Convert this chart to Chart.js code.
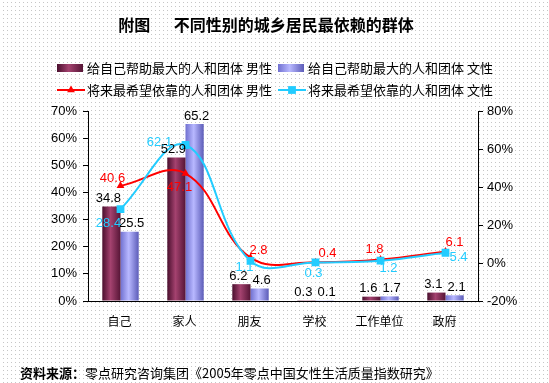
<!DOCTYPE html>
<html>
<head>
<meta charset="utf-8">
<script src="https://cdn.jsdelivr.net/npm/chart.js@4/dist/chart.umd.min.js"></script>
<style>
  html, body { margin: 0; padding: 0; background: #fff; }
  #wrap { width: 549px; height: 383px; }
</style>
</head>
<body>
<div id="wrap"><canvas id="dependChart" width="549" height="383"></canvas></div>
<script>
// ====Data====
var categories = ['自己', '家人', '朋友', '学校', '工作单位', '政府'];
var helpMale = [34.8, 52.9, 6.2, 0.3, 1.6, 3.1];
var helpFemale = [25.5, 65.2, 4.6, 0.1, 1.7, 2.1];
var hopeMale = [40.6, 47.1, 2.8, 0.4, 1.8, 6.1];
var hopeFemale = [28.4, 62.1, 1.1, 0.3, 1.2, 5.4];
var seriesNames = ['给自己帮助最大的人和团体 男性', '给自己帮助最大的人和团体 文性',
                   '将来最希望依靠的人和团体 男性', '将来最希望依靠的人和团体 文性'];
var titleText = '附图　  不同性别的城乡居民最依赖的群体';
var sourceLabel = '资料来源：';
var sourceText = '零点研究咨询集团《2005年零点中国女性生活质量指数研究》';

// label nudges for the line values (px)
var hopeMaleNudge = [[-8, -7], [-6, 14], [8, -7], [12, -9], [-6, -10], [9, -9]];
var hopeFemaleNudge = [[-12, 14], [-26, -3], [-6, 7], [-2, 11], [8, 8], [13, 5]];

var maleStops = ['#4a0f2e', '#a4426f', '#561536'];
var femaleStops = ['#7070d0', '#b8b8ff', '#5c5cb8'];
var barSpan = 0.56;
var cjk = '"Noto Sans CJK SC", "Noto Sans", sans-serif';
var latin = '"Liberation Sans", Arial, sans-serif';

function barGradient(stops, side) {
    return function (c) {
        var chart = c.chart, xs = chart.scales.x;
        if (c.type !== 'data' || !xs || !chart.chartArea) return stops[1];
        var half = (xs.right - xs.left) / categories.length * barSpan / 2;
        var cx = xs.getPixelForValue(c.dataIndex);
        var x0 = side < 0 ? cx - half : cx;
        var g = chart.ctx.createLinearGradient(x0, 0, x0 + half, 0);
        g.addColorStop(0, stops[0]);
        g.addColorStop(0.45, stops[1]);
        g.addColorStop(1, stops[2]);
        return g;
    };
}

// ====Dotted page background====
var dottedBack = {
    id: 'dottedBack',
    beforeDraw: function (chart) {
        var ctx = chart.ctx;
        ctx.save();
        ctx.fillStyle = '#ffffff';
        ctx.fillRect(0, 0, chart.width, chart.height);
        ctx.fillStyle = '#c6c6c6';
        for (var y = 2; y < chart.height; y += 4) {
            for (var x = 3; x < chart.width; x += 4) ctx.fillRect(x, y, 1, 1);
        }
        ctx.restore();
    }
};

// ====Title, legend, source, value labels====
var decorations = {
    id: 'decorations',
    afterDatasetsDraw: function (chart) {
        var ctx = chart.ctx;
        ctx.save();
        ctx.textAlign = 'center';
        ctx.textBaseline = 'middle';
        ctx.font = '13px ' + latin;

        // bar values
        [[0, -3], [1, 2]].forEach(function (s) {
            var meta = chart.getDatasetMeta(s[0]);
            var vals = chart.data.datasets[s[0]].data;
            ctx.fillStyle = '#000';
            meta.data.forEach(function (bar, i) {
                ctx.fillText(String(vals[i]), bar.x + s[1], bar.y - 8);
            });
        });
        // line values
        [[2, hopeMaleNudge, '#ff0000'], [3, hopeFemaleNudge, '#22ccff']].forEach(function (s) {
            var meta = chart.getDatasetMeta(s[0]);
            var vals = chart.data.datasets[s[0]].data;
            ctx.fillStyle = s[2];
            meta.data.forEach(function (pt, i) {
                ctx.fillText(String(vals[i]), pt.x + s[1][i][0], pt.y + s[1][i][1]);
            });
        });
        ctx.restore();
    },
    afterDraw: function (chart) {
        var ctx = chart.ctx;
        ctx.save();
        ctx.textBaseline = 'middle';
        ctx.fillStyle = '#000';

        // title
        ctx.font = 'bold 16px ' + cjk;
        ctx.textAlign = 'center';
        ctx.fillText(titleText, 266, 25);

        // legend
        ctx.textAlign = 'left';
        ctx.font = '13px ' + cjk;
        var cols = [57, 278];
        var rows = [68, 90];
        [maleStops, femaleStops].forEach(function (st, k) {
            var x0 = cols[k], y0 = rows[0];
            var g = ctx.createLinearGradient(x0, 0, x0 + 26, 0);
            g.addColorStop(0, st[0]); g.addColorStop(0.45, st[1]); g.addColorStop(1, st[2]);
            ctx.fillStyle = g;
            ctx.fillRect(x0, y0 - 4, 26, 8);
            ctx.fillStyle = '#000';
            ctx.fillText(seriesNames[k], x0 + 30, y0);
        });
        [[2, '#ff0000', 'triangle'], [3, '#22ccff', 'rect']].forEach(function (s, k) {
            var x0 = cols[k], y0 = rows[1];
            ctx.strokeStyle = s[1];
            ctx.lineWidth = 2;
            ctx.beginPath();
            ctx.moveTo(x0, y0); ctx.lineTo(x0 + 28, y0);
            ctx.stroke();
            ctx.fillStyle = s[1];
            Chart.helpers.drawPoint(ctx, { pointStyle: s[2], radius: s[2] === 'rect' ? 5.5 : 4.5, rotation: 0, borderWidth: 0 }, x0 + 14, y0);
            ctx.fillStyle = '#000';
            ctx.fillText(seriesNames[s[0]], x0 + 30, y0);
        });

        // source line
        ctx.font = 'bold 13px ' + cjk;
        ctx.fillText(sourceLabel, 20, 373);
        var w = ctx.measureText(sourceLabel).width;
        ctx.font = '13px ' + cjk;
        ctx.fillText(sourceText, 20 + w, 373);
        ctx.restore();
    }
};

// ====Combined bar / line chart====
var dependChart = new Chart(document.getElementById('dependChart').getContext('2d'), {
    type: 'bar',
    data: {
        labels: categories,
        datasets: [
            { label: seriesNames[0], data: helpMale, yAxisID: 'y', order: 2,
              backgroundColor: barGradient(maleStops, -1), barPercentage: 1, categoryPercentage: barSpan },
            { label: seriesNames[1], data: helpFemale, yAxisID: 'y', order: 2,
              backgroundColor: barGradient(femaleStops, 1), barPercentage: 1, categoryPercentage: barSpan },
            { type: 'line', label: seriesNames[2], data: hopeMale, yAxisID: 'y1', order: 1,
              borderColor: '#ff0000', backgroundColor: '#ff0000', borderWidth: 2, tension: 0.4,
              pointStyle: 'triangle', pointRadius: 4.5, pointBorderWidth: 0 },
            { type: 'line', label: seriesNames[3], data: hopeFemale, yAxisID: 'y1', order: 0,
              borderColor: '#22ccff', backgroundColor: '#22ccff', borderWidth: 2, tension: 0.4,
              pointStyle: 'rect', pointRadius: 5.5, pointBorderWidth: 0 }
        ]
    },
    options: {
        responsive: false,
        animation: false,
        events: [],
        layout: { padding: { top: 111, left: 0, right: 0, bottom: 0 } },
        plugins: { legend: { display: false }, title: { display: false }, tooltip: { enabled: false } },
        scales: {
            x: {
                grid: { display: false, drawTicks: false },
                border: { color: '#000', width: 1 },
                ticks: { color: '#000', font: { family: cjk, size: 12 }, padding: 13, labelOffset: -1 },
                afterFit: function (s) { s.height = 82; }
            },
            y: {
                position: 'left', min: 0, max: 70,
                grid: { drawOnChartArea: false, color: '#000', tickLength: 5 },
                border: { color: '#000', width: 1 },
                ticks: { stepSize: 10, color: '#000', padding: 6, font: { family: latin, size: 13 },
                         callback: function (v) { return v + '%'; } },
                afterFit: function (s) { s.width = 88; }
            },
            y1: {
                position: 'right', min: -20, max: 80,
                grid: { drawOnChartArea: false, color: '#000', tickLength: 5 },
                border: { color: '#000', width: 1 },
                ticks: { stepSize: 20, color: '#000', padding: 4, font: { family: latin, size: 13 },
                         callback: function (v) { return v + '%'; } },
                afterFit: function (s) { s.width = 71; }
            }
        }
    },
    plugins: [dottedBack, decorations]
});
</script>
</body>
</html>
